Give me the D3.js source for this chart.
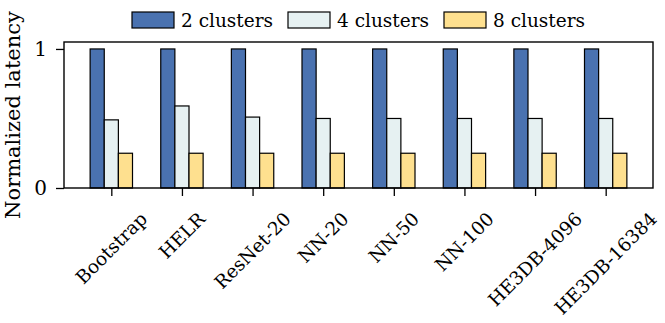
<!DOCTYPE html>
<html>
<head>
<meta charset="utf-8">
<script src="https://cdn.jsdelivr.net/npm/d3@7"></script>
<style>
  body { margin: 0; background: #fff; }
  text { font-family: "DejaVu Serif", serif; fill: #000; }
</style>
</head>
<body>
<svg id="chart" width="665" height="323"></svg>
<script>
// data
var categories = ['Bootstrap', 'HELR', 'ResNet-20', 'NN-20', 'NN-50', 'NN-100', 'HE3DB-4096', 'HE3DB-16384'];
var seriesNames = ['2 clusters', '4 clusters', '8 clusters'];
var clusters2 = [1, 1, 1, 1, 1, 1, 1, 1];
var clusters4 = [0.49, 0.59, 0.51, 0.50, 0.50, 0.50, 0.50, 0.50];
var clusters8 = [0.25, 0.25, 0.25, 0.25, 0.25, 0.25, 0.25, 0.25];
var yTicks = [0, 1];

var colors = ['#4a72b0', '#e6f1f2', '#fee08f'];

var W = 665, H = 323;
var margin = {top: 42, right: 12, bottom: 135, left: 64};
var innerW = W - margin.left - margin.right;
var innerH = H - margin.top - margin.bottom;

var svg = d3.select('#chart');
var g = svg.append('g').attr('transform', 'translate(' + margin.left + ',' + margin.top + ')');

var x = d3.scalePoint().domain(categories).range([0, innerW]).padding(0.67);
var step = x.step();
var xs = d3.scaleBand().domain(seriesNames).range([-step * 0.3, step * 0.3]);
var y = d3.scaleLinear().domain([0, 1.05]).range([innerH, 0]);

// table for bars
var rows = [];
categories.forEach(function(c, i) {
  [clusters2, clusters4, clusters8].forEach(function(s, j) {
    rows.push({cat: c, series: seriesNames[j], value: s[i], color: colors[j]});
  });
});

g.selectAll('.bar').data(rows).enter()
  .append('rect')
  .attr('class', 'bar')
  .attr('x', function(d) { return x(d.cat) + xs(d.series); })
  .attr('width', xs.bandwidth())
  .attr('y', function(d) { return y(d.value); })
  .attr('height', function(d) { return innerH - y(d.value); })
  .attr('fill', function(d) { return d.color; })
  .attr('stroke', '#000')
  .attr('stroke-width', 1.2);

// frame
g.append('rect')
  .attr('width', innerW).attr('height', innerH)
  .attr('fill', 'none').attr('stroke', '#000').attr('stroke-width', 1.4);

// y axis
var yAxis = g.append('g')
  .call(d3.axisLeft(y).tickValues(yTicks).tickFormat(d3.format('d')).tickSize(8).tickPadding(9));
yAxis.select('.domain').remove();
yAxis.selectAll('line').attr('stroke-width', 1.3);
yAxis.selectAll('text').style('font-size', '20px').style('font-family', '"DejaVu Serif", serif');

// x axis ticks
var xAxis = g.append('g')
  .attr('transform', 'translate(0,' + innerH + ')')
  .call(d3.axisBottom(x).tickSize(8).tickFormat(''));
xAxis.select('.domain').remove();
xAxis.selectAll('line').attr('stroke-width', 1.3);

// rotated x labels, bbox centred on tick
var labelTop = 209 - margin.top;
var fs = 18.5;
g.selectAll('.xlab').data(categories).enter()
  .append('text')
  .attr('class', 'xlab')
  .style('font-size', fs + 'px')
  .attr('text-anchor', 'middle')
  .attr('dominant-baseline', 'central')
  .text(function(d) { return d; })
  .each(function(d) {
    var L = this.getComputedTextLength();
    var half = (L + fs) / (2 * Math.SQRT2);
    var cx = x(d), cy = labelTop + half;
    d3.select(this).attr('x', cx).attr('y', cy)
      .attr('transform', 'rotate(-45,' + cx + ',' + cy + ')');
  });

// y label
svg.append('text')
  .attr('transform', 'translate(20,' + (margin.top + innerH / 2) + ') rotate(-90)')
  .attr('text-anchor', 'middle')
  .style('font-size', '21px')
  .text('Normalized latency');

// legend
var legend = svg.append('g');
seriesNames.forEach(function(name, i) {
  var lx = 132 + i * 156;
  legend.append('rect')
    .attr('x', lx).attr('y', 12).attr('width', 42).attr('height', 16)
    .attr('fill', colors[i]).attr('stroke', '#000').attr('stroke-width', 1.2);
  legend.append('text')
    .attr('x', lx + 49).attr('y', 27)
    .style('font-size', '18.5px')
    .text(name);
});
</script>
</body>
</html>
